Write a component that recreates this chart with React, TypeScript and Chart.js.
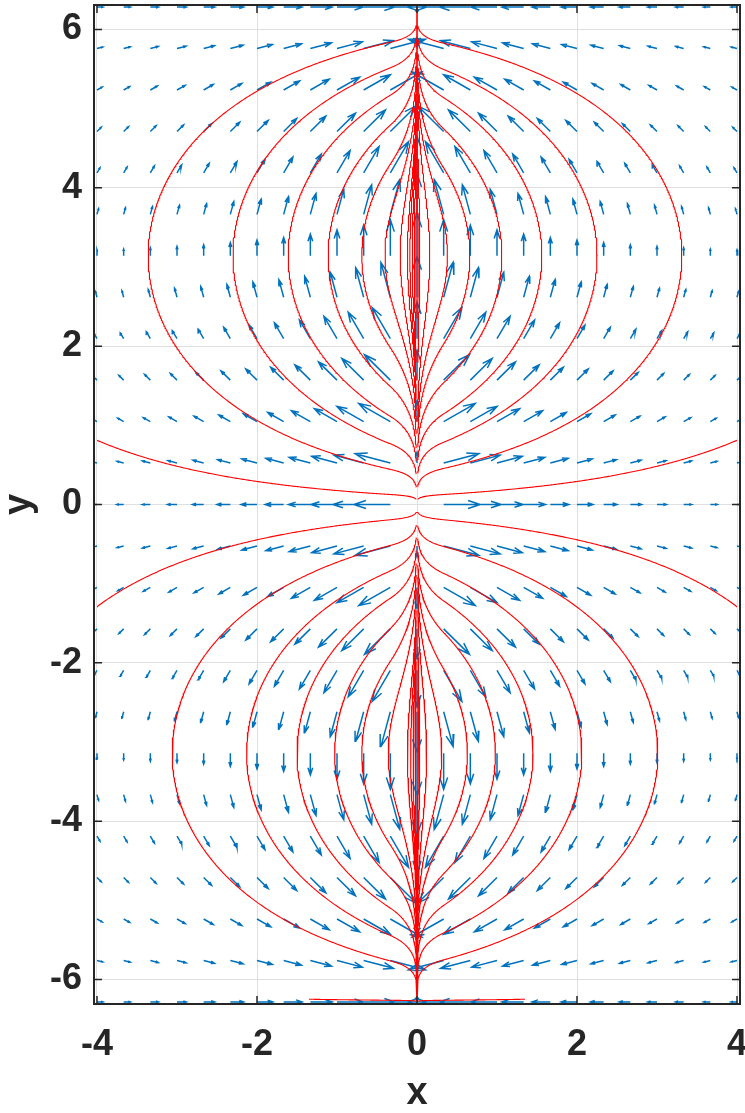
import React, { useEffect, useRef } from "react";
import { Chart, registerables } from "chart.js";

Chart.register(...registerables);

// ---- quiver grid ----
const gridX = [-4, -3.6667, -3.3333, -3, -2.6667, -2.3333, -2, -1.6667, -1.3333, -1, -0.6667, -0.3333, 0,
  0.3333, 0.6667, 1, 1.3333, 1.6667, 2, 2.3333, 2.6667, 3, 3.3333, 3.6667, 4];
const gridY = [-6.2832, -5.7596, -5.236, -4.7124, -4.1888, -3.6652, -3.1416, -2.618, -2.0944, -1.5708, -1.0472, -0.5236, 0,
  0.5236, 1.0472, 1.5708, 2.0944, 2.618, 3.1416, 3.6652, 4.1888, 4.7124, 5.236, 5.7596, 6.2832];
// arrow direction per row (degrees from the outward horizontal)
const rowAngleDeg = [-180, -165, -150, -135, -120, -105, -90, -75, -60, -45, -30, -15, 0,
  15, 30, 45, 60, 75, 90, 105, 120, 135, 150, 165, 180];
// arrow strength per column
const columnMagnitude = [0.14, 0.16, 0.19, 0.22, 0.26, 0.31, 0.37, 0.43, 0.51, 0.61, 0.72, 0.85, 1.0,
  0.85, 0.72, 0.61, 0.51, 0.43, 0.37, 0.31, 0.26, 0.22, 0.19, 0.16, 0.14];

// ---- streamlines ----
const upperLoopPeakX = [-3.36, -2.3, -1.61, -1.11, -0.69, -0.4, -0.21, -0.12, -0.09, -0.06, -0.035, -0.015,
  0.015, 0.035, 0.16, 0.38, 0.66, 1.06, 1.56, 2.25, 3.31];
const lowerLoopPeakX = [-3.06, -2.13, -1.5, -1.03, -0.69, -0.36, -0.12, -0.08, -0.05, -0.025,
  0.015, 0.035, 0.12, 0.31, 0.63, 0.98, 1.45, 2.06, 3.01];
const upperEscapeEdgeY = 0.81;
const lowerEscapeEdgeY = -1.29;
const bottomFanSeedX = [-1.35, 1.35];
const bottomFanSeedY = [-6.25];

// ---- axes ----
const xTicks = [-4, -2, 0, 2, 4];
const yTicks = [-6, -4, -2, 0, 2, 4, 6];
const xLimits = [-4.0375, 4.0375];
const yLimits = [-6.31, 6.31];

const DEG = Math.PI / 180;
const U: number[][] = gridY.map((_, r) =>
  gridX.map((x, c) => Math.sign(x) * columnMagnitude[c] * Math.cos(rowAngleDeg[r] * DEG)));
const V: number[][] = gridY.map((_, r) =>
  gridX.map((_x, c) => columnMagnitude[c] * Math.sin(rowAngleDeg[r] * DEG)));

function cellIndex(arr: number[], v: number) {
  let i = 0;
  while (i < arr.length - 2 && v > arr[i + 1]) i++;
  return i;
}

function field(x: number, y: number): [number, number] {
  const c = cellIndex(gridX, x);
  const r = cellIndex(gridY, y);
  const tx = (x - gridX[c]) / (gridX[c + 1] - gridX[c]);
  const ty = (y - gridY[r]) / (gridY[r + 1] - gridY[r]);
  const w00 = (1 - tx) * (1 - ty), w10 = tx * (1 - ty), w01 = (1 - tx) * ty, w11 = tx * ty;
  const u = w00 * U[r][c] + w10 * U[r][c + 1] + w01 * U[r + 1][c] + w11 * U[r + 1][c + 1];
  const v = w00 * V[r][c] + w10 * V[r][c + 1] + w01 * V[r + 1][c] + w11 * V[r + 1][c + 1];
  return [u, v];
}

function unitDir(x: number, y: number): [number, number] | null {
  const [u, v] = field(x, y);
  const s = Math.hypot(u, v);
  if (s < 0.002) return null;
  return [u / s, v / s];
}

type P = { x: number; y: number };
const X0 = gridX[0], X1 = gridX[gridX.length - 1], Y0 = gridY[0], Y1 = gridY[gridY.length - 1];

function trace(sx: number, sy: number, dir: number, stopNearAxis: boolean): P[] {
  const pts: P[] = [{ x: sx, y: sy }];
  let x = sx, y = sy, traveled = 0;
  const h = 0.008;
  for (let i = 0; i < 8000; i++) {
    const k1 = unitDir(x, y);
    if (!k1) break;
    const mx = x + dir * (h / 2) * k1[0], my = y + dir * (h / 2) * k1[1];
    if (mx < X0 || mx > X1 || my < Y0 || my > Y1) break;
    const k2 = unitDir(mx, my);
    if (!k2) break;
    const nx = x + dir * h * k2[0], ny = y + dir * h * k2[1];
    if (nx < X0 || nx > X1 || ny < Y0 || ny > Y1) break;
    x = nx; y = ny; traveled += h;
    if (i % 2 === 0) pts.push({ x, y });
    if (stopNearAxis && traveled > 0.05 && Math.abs(x) < 0.01) { pts.push({ x, y }); break; }
  }
  return pts;
}

function loop(px: number, py: number): P[] {
  const back = trace(px, py, -1, true).reverse();
  const fwd = trace(px, py, 1, false);
  return back.concat(fwd.slice(1));
}

function buildStreamlines(): P[] {
  const curves: P[][] = [];
  upperLoopPeakX.forEach((px) => curves.push(loop(px, Math.PI)));
  lowerLoopPeakX.forEach((px) => curves.push(loop(px, -Math.PI)));
  [-3.999, 3.999].forEach((ex) => {
    curves.push(trace(ex, upperEscapeEdgeY, -1, true));
    curves.push(trace(ex, lowerEscapeEdgeY, -1, true));
  });
  bottomFanSeedX.forEach((bx) => bottomFanSeedY.forEach((by) => curves.push(trace(bx, by, 1, true))));
  const out: P[] = [];
  curves.forEach((c) => { out.push(...c); out.push({ x: NaN, y: NaN }); });
  return out;
}

function buildQuiver(): P[] {
  const n = Math.sqrt(gridX.length * gridY.length);
  const delx = (X1 - X0) / n, dely = (Y1 - Y0) / n;
  const del = Math.sqrt(delx * delx + dely * dely);
  let maxLen = 0;
  gridY.forEach((_, r) => gridX.forEach((_x, c) => {
    maxLen = Math.max(maxLen, Math.hypot(U[r][c], V[r][c]) / del);
  }));
  const scale = 0.9 / maxLen;
  const alpha = 0.33, beta = 0.33;
  const pts: P[] = [];
  gridY.forEach((y, r) => gridX.forEach((x, c) => {
    const u = U[r][c] * scale, v = V[r][c] * scale;
    if (Math.hypot(u, v) < 1e-6) return;
    const tx = x + u, ty = y + v;
    pts.push({ x, y }, { x: tx, y: ty }, { x: NaN, y: NaN });
    pts.push({ x: tx - alpha * (u + beta * v), y: ty - alpha * (v - beta * u) });
    pts.push({ x: tx, y: ty });
    pts.push({ x: tx - alpha * (u - beta * v), y: ty - alpha * (v + beta * u) });
    pts.push({ x: NaN, y: NaN });
  }));
  return pts;
}

const AXIS_COLOR = "#262626";
const FONT_FAMILY = "'Liberation Sans', Arial, Helvetica, sans-serif";

const framePlugin = {
  id: "matlabFrame",
  afterDraw(chart: any) {
    const { ctx, chartArea: a, scales } = chart;
    ctx.save();
    ctx.strokeStyle = AXIS_COLOR;
    ctx.lineWidth = 2;
    ctx.strokeRect(a.left, a.top, a.right - a.left, a.bottom - a.top);
    const tl = 8;
    ctx.lineWidth = 1.5;
    ctx.beginPath();
    xTicks.forEach((v) => {
      const p = scales.x.getPixelForValue(v);
      ctx.moveTo(p, a.bottom); ctx.lineTo(p, a.bottom - tl);
      ctx.moveTo(p, a.top); ctx.lineTo(p, a.top + tl);
    });
    yTicks.forEach((v) => {
      const p = scales.y.getPixelForValue(v);
      ctx.moveTo(a.left, p); ctx.lineTo(a.left + tl, p);
      ctx.moveTo(a.right, p); ctx.lineTo(a.right - tl, p);
    });
    ctx.stroke();
    ctx.restore();
  },
};

export default function App() {
  const ref = useRef<HTMLCanvasElement>(null);
  useEffect(() => {
    const canvas = ref.current;
    if (!canvas) return;
    const tickFont = { family: FONT_FAMILY, size: 36, weight: "bold" as const };
    const titleFont = { family: FONT_FAMILY, size: 38, weight: "bold" as const };
    const chart = new Chart(canvas, {
      type: "scatter",
      data: {
        datasets: [
          {
            label: "streamlines",
            data: buildStreamlines(),
            showLine: true,
            pointRadius: 0,
            borderColor: "#ff0000",
            borderWidth: 1.1,
            spanGaps: false,
            order: 0,
          } as any,
          {
            label: "quiver",
            data: buildQuiver(),
            showLine: true,
            pointRadius: 0,
            borderColor: "#0072bd",
            borderWidth: 1.5,
            spanGaps: false,
            order: 1,
          } as any,
        ],
      },
      options: {
        animation: false,
        responsive: false,
        maintainAspectRatio: false,
        devicePixelRatio: 1,
        events: [],
        layout: { padding: { top: 5, right: 5, left: 0, bottom: 0 } },
        plugins: { legend: { display: false }, tooltip: { enabled: false } },
        scales: {
          x: {
            type: "linear",
            min: xLimits[0],
            max: xLimits[1],
            afterFit: (s: any) => { s.height = 109; s.paddingLeft = 0; s.paddingRight = 0; },
            afterBuildTicks: (s: any) => { s.ticks = xTicks.map((value) => ({ value })); },
            ticks: {
              font: tickFont, color: AXIS_COLOR, padding: 19, autoSkip: false, maxRotation: 0,
              callback: (v: any) => String(v),
            },
            grid: { color: "#dfdfdf", lineWidth: 1, drawTicks: false },
            border: { display: false },
            title: { display: true, text: "x", font: titleFont, color: AXIS_COLOR, padding: { top: 0, bottom: -3 } },
          },
          y: {
            type: "linear",
            min: yLimits[0],
            max: yLimits[1],
            afterFit: (s: any) => { s.width = 94; s.paddingTop = 0; s.paddingBottom = 0; },
            afterBuildTicks: (s: any) => { s.ticks = yTicks.map((value) => ({ value })); },
            ticks: {
              font: tickFont, color: AXIS_COLOR, padding: 12, autoSkip: false,
              callback: (v: any) => String(v),
            },
            grid: { color: "#dfdfdf", lineWidth: 1, drawTicks: false },
            border: { display: false },
            title: { display: true, text: "y", font: titleFont, color: AXIS_COLOR, padding: { top: -3, bottom: 0 } },
          },
        },
      } as any,
      plugins: [framePlugin],
    });
    return () => chart.destroy();
  }, []);
  return (
    <div style={{ position: "absolute", left: 0, top: 0, width: 745, height: 1113, background: "#fff" }}>
      <canvas ref={ref} width={745} height={1113} style={{ display: "block", width: "745px", height: "1113px" }} />
    </div>
  );
}
